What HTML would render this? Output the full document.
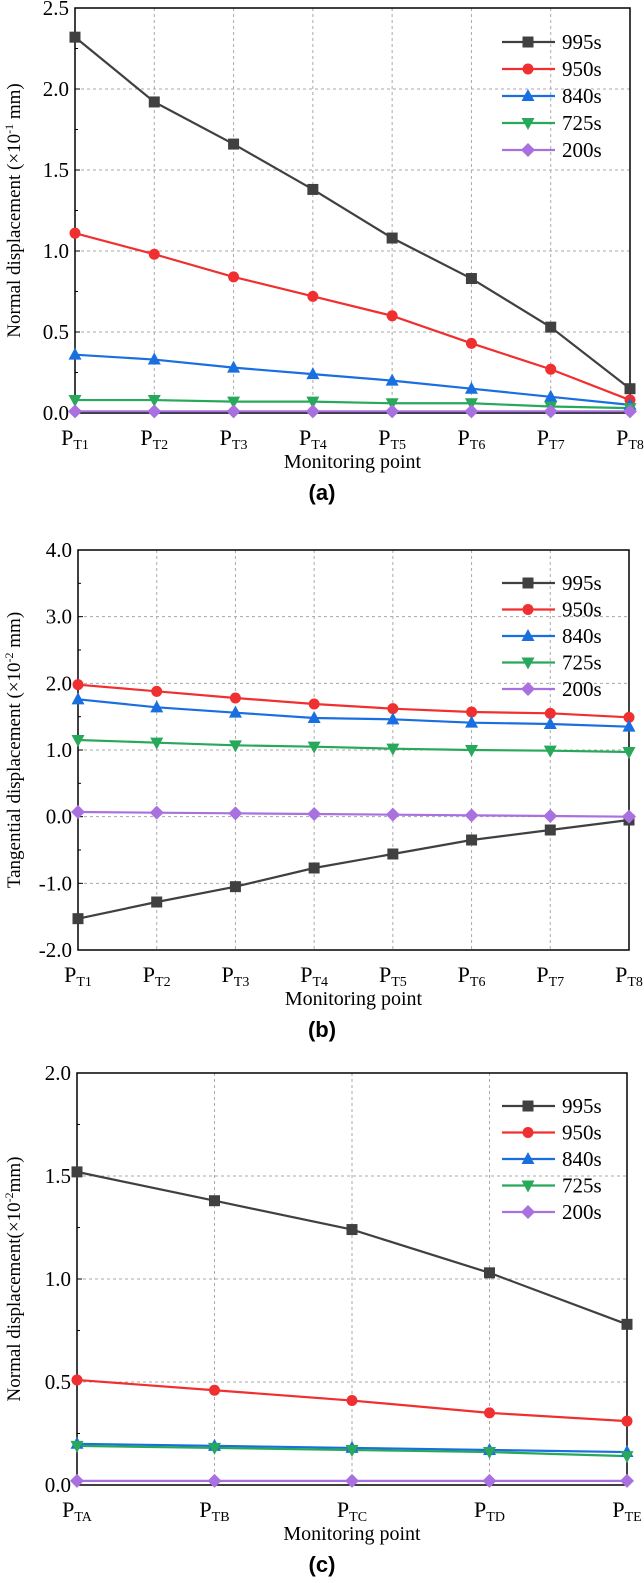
<!DOCTYPE html>
<html><head><meta charset="utf-8"><style>
body{margin:0;background:#fff}
</style></head><body>
<svg id="s" width="644" height="1578" font-family="Liberation Serif, serif"></svg>
<script>
const seriesNames=["995s","950s","840s","725s","200s"];
const colors=["#404040","#f03030","#1a6fe0","#27a85a","#a970e0"];
const catsA=["T1","T2","T3","T4","T5","T6","T7","T8"];
const a995=[2.32,1.92,1.66,1.38,1.08,0.83,0.53,0.15];
const a950=[1.11,0.98,0.84,0.72,0.60,0.43,0.27,0.08];
const a840=[0.36,0.33,0.28,0.24,0.20,0.15,0.10,0.05];
const a725=[0.08,0.08,0.07,0.07,0.06,0.06,0.04,0.03];
const a200=[0.01,0.01,0.01,0.01,0.01,0.01,0.01,0.01];
const ticksA=["0.0","0.5","1.0","1.5","2.0","2.5"];
const b995=[-1.53,-1.28,-1.05,-0.77,-0.56,-0.35,-0.20,-0.05];
const b950=[1.98,1.88,1.78,1.69,1.62,1.57,1.55,1.49];
const b840=[1.76,1.64,1.56,1.48,1.46,1.41,1.39,1.35];
const b725=[1.15,1.11,1.07,1.05,1.02,1.00,0.99,0.97];
const b200=[0.07,0.06,0.05,0.04,0.03,0.02,0.01,0.0];
const ticksB=["-2.0","-1.0","0.0","1.0","2.0","3.0","4.0"];
const catsC=["TA","TB","TC","TD","TE"];
const c995=[1.52,1.38,1.24,1.03,0.78];
const c950=[0.51,0.46,0.41,0.35,0.31];
const c840=[0.20,0.19,0.18,0.17,0.16];
const c725=[0.19,0.18,0.17,0.16,0.14];
const c200=[0.02,0.02,0.02,0.02,0.02];
const ticksC=["0.0","0.5","1.0","1.5","2.0"];
const NS="http://www.w3.org/2000/svg";
const SERIF="Liberation Serif, serif";
const svg=document.getElementById('s');
function el(t,at,p){const e=document.createElementNS(NS,t);for(const k in at)e.setAttribute(k,at[k]);(p||svg).appendChild(e);return e;}
function marker(g,i,x,y){const c=colors[i];let m;
 if(i==0)m=el('rect',{x:x-5.5,y:y-5.5,width:11,height:11,fill:c},g);
 else if(i==1)m=el('circle',{cx:x,cy:y,r:5.5,fill:c},g);
 else if(i==2)m=el('polygon',{points:`${x},${y-7} ${x-6.5},${y+5} ${x+6.5},${y+5}`,fill:c},g);
 else if(i==3)m=el('polygon',{points:`${x},${y+7} ${x-6.5},${y-5} ${x+6.5},${y-5}`,fill:c},g);
 else m=el('polygon',{points:`${x},${y-7} ${x+7},${y} ${x},${y+7} ${x-7},${y}`,fill:c},g);
 
 }
function chart(o){
 const g=el('g',{});
 
 
 const n=o.cats.length,L=o.x0,R=o.x1,T=o.yTop,B=o.yBot;
 const X=i=>L+(R-L)*i/(n-1);
 const Y=v=>B-(v-o.min)/(o.max-o.min)*(B-T);
 for(let i=1;i<n-1;i++){const l=el('line',{x1:X(i),x2:X(i),y1:T,y2:B,stroke:'#aaa','stroke-dasharray':'3,3'},g);}
 o.ticks.forEach((t,k)=>{const v=parseFloat(t),y=Y(v);
  if(k>0&&k<o.ticks.length-1){const l=el('line',{x1:L,x2:R,y1:y,y2:y,stroke:'#aaa','stroke-dasharray':'3,3'},g);}
  el('line',{x1:L,x2:L+5,y1:y,y2:y,stroke:'#000'},g);
  if(k<o.ticks.length-1){const ym=Y(v+(o.max-o.min)/(o.ticks.length-1)/2);el('line',{x1:L,x2:L+3,y1:ym,y2:ym,stroke:'#000'},g);}
  const tx=el('text',{x:L-6,y:y+7,'text-anchor':'end','font-size':21,'font-family':SERIF},g);tx.textContent=t;
  });
 const fr=el('rect',{x:L,y:T,width:R-L,height:B-T,fill:'none',stroke:'#000','stroke-width':1.5},g);
 
 o.cats.forEach((c,i)=>{const t=el('text',{x:X(i),y:B+32,'text-anchor':'middle','font-size':22,'font-family':SERIF},g);
  t.innerHTML='P<tspan font-size="14" dy="4">'+c+'</tspan>';
  });
 const xt=el('text',{x:(L+R)/2,y:B+55,'text-anchor':'middle','font-size':20,'font-family':SERIF},g);xt.textContent='Monitoring point';
 
 const yt=el('text',{transform:`translate(${o.ytx},${(T+B)/2}) rotate(-90)`,'text-anchor':'middle','font-size':19,'font-family':SERIF},g);
 yt.innerHTML=o.ytitle;
 o.series.forEach((s,i)=>{const pts=s.map((v,j)=>X(j)+','+Y(v)).join(' ');
  const pl=el('polyline',{points:pts,fill:'none',stroke:colors[i],'stroke-width':2.2},g);
  });
 o.series.forEach((s,i)=>s.forEach((v,j)=>marker(g,i,X(j),Y(v))));
 seriesNames.forEach((nm,i)=>{const y=o.legY+i*o.legS;
  const lg=el('g',{},g);
  el('line',{x1:502,x2:555,y1:y,y2:y,stroke:colors[i],'stroke-width':2.2},lg);marker(lg,i,528,y);
  const t=el('text',{x:562,y:y+7,'font-size':21,'font-family':SERIF},lg);t.textContent=nm;});
 const cap=el('text',{x:322,y:B+87,'text-anchor':'middle','font-size':22,'font-weight':'bold','font-family':'Liberation Sans, sans-serif'},g);
 cap.textContent=o.cap;
}
chart({name:'chart-a',cats:catsA,series:[a995,a950,a840,a725,a200],ticks:ticksA,min:0,max:2.5,x0:75,x1:630,yTop:8,yBot:413,ytx:20,
 ytitle:'Normal displacement (×10<tspan font-size="12" dy="-7">-1</tspan><tspan dy="7"> mm)</tspan>',legY:42,legS:27,cap:'(a)'});
chart({name:'chart-b',cats:catsA,series:[b995,b950,b840,b725,b200],ticks:ticksB,min:-2,max:4,x0:78,x1:629,yTop:550,yBot:950,ytx:20,
 ytitle:'Tangential displacement (×10<tspan font-size="12" dy="-7">-2</tspan><tspan dy="7"> mm)</tspan>',legY:583,legS:26.5,cap:'(b)'});
chart({name:'chart-c',cats:catsC,series:[c995,c950,c840,c725,c200],ticks:ticksC,min:0,max:2,x0:77,x1:627,yTop:1073,yBot:1485,ytx:20,
 ytitle:'Normal displacement(×10<tspan font-size="12" dy="-7">-2</tspan><tspan dy="7">mm)</tspan>',legY:1106,legS:26.5,cap:'(c)'});
</script>
</body></html>
